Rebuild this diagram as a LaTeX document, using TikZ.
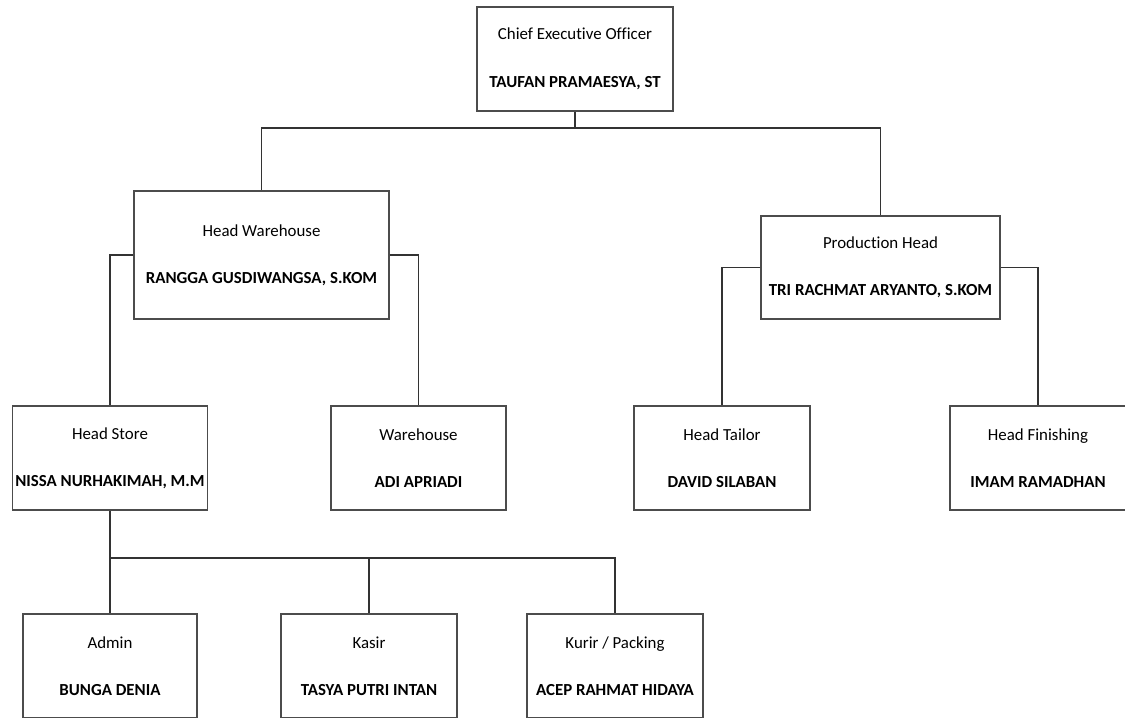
\documentclass[tikz,border=0pt]{standalone}
\usepackage{fontspec}
\setmainfont{Carlito}[Ligatures=NoCommon]
\usepackage{tikz}
\usetikzlibrary{positioning,calc}

\begin{document}
\begin{tikzpicture}[x=0.02cm, y=-0.02cm,
    org block/.style={draw=black!70, line width=0.8pt, rectangle, inner xsep=1pt, minimum width=3.5cm, minimum height=2.08cm, align=center, font=\fontsize{9.6}{11.5}\selectfont},
    org line/.style={draw=black!80, line width=0.7pt}]
    \useasboundingbox (0,0) rectangle (1125,717);

    \node[org block, minimum width=3.92cm] (ceo) at (575,59) {Chief Executive Officer \\[15.5pt] \textbf{TAUFAN PRAMAESYA, ST}};

    \node[org block, minimum width=5.1cm, minimum height=2.56cm] (hw) at (261.5,255) {Head Warehouse \\[15.5pt] \textbf{RANGGA GUSDIWANGSA, S.KOM}};
    \node[org block, minimum width=4.78cm, minimum height=2.06cm] (ph) at (880.5,267.5) {Production Head \\[15.5pt] \textbf{TRI RACHMAT ARYANTO, S.KOM}};

    \node[org block, minimum width=3.9cm] (hs) at (110,458) {Head Store \\[15.5pt] \textbf{NISSA NURHAKIMAH, M.M}};
    \node[org block] (wh) at (418.5,458) {Warehouse \\[15.5pt] \textbf{ADI APRIADI}};
    \node[org block, minimum width=3.52cm] (ht) at (722,458) {Head Tailor \\[15.5pt] \textbf{DAVID SILABAN}};
    \node[org block, minimum width=3.52cm] (hf) at (1038,458) {Head Finishing \\[15.5pt] \textbf{IMAM RAMADHAN}};

    \node[org block, minimum width=3.48cm] (admin) at (110,666) {Admin \\[15.5pt] \textbf{BUNGA DENIA}};
    \node[org block, minimum width=3.52cm] (kasir) at (369,666) {Kasir \\[15.5pt] \textbf{TASYA PUTRI INTAN}};
    \node[org block, minimum width=3.52cm] (kurir) at (615,666) {Kurir / Packing \\[15.5pt] \textbf{ACEP RAHMAT HIDAYA}};

    \coordinate (top bus) at (575,128);
    \coordinate (store bus) at (110,558);

    \draw[org line] (ceo) -- (top bus);
    \draw[org line] (top bus) -| (hw);
    \draw[org line] (top bus) -| (ph);
    \draw[org line] (hw.west) -| (hs);
    \draw[org line] (hw.east) -| (wh);
    \draw[org line] (ph.west) -| (ht);
    \draw[org line] (ph.east) -| (hf);
    \draw[org line] (hs) -- (store bus);
    \draw[org line] (store bus) -- (admin);
    \draw[org line] (store bus) -| (kasir);
    \draw[org line] (store bus) -| (kurir);
\end{tikzpicture}
\end{document}
